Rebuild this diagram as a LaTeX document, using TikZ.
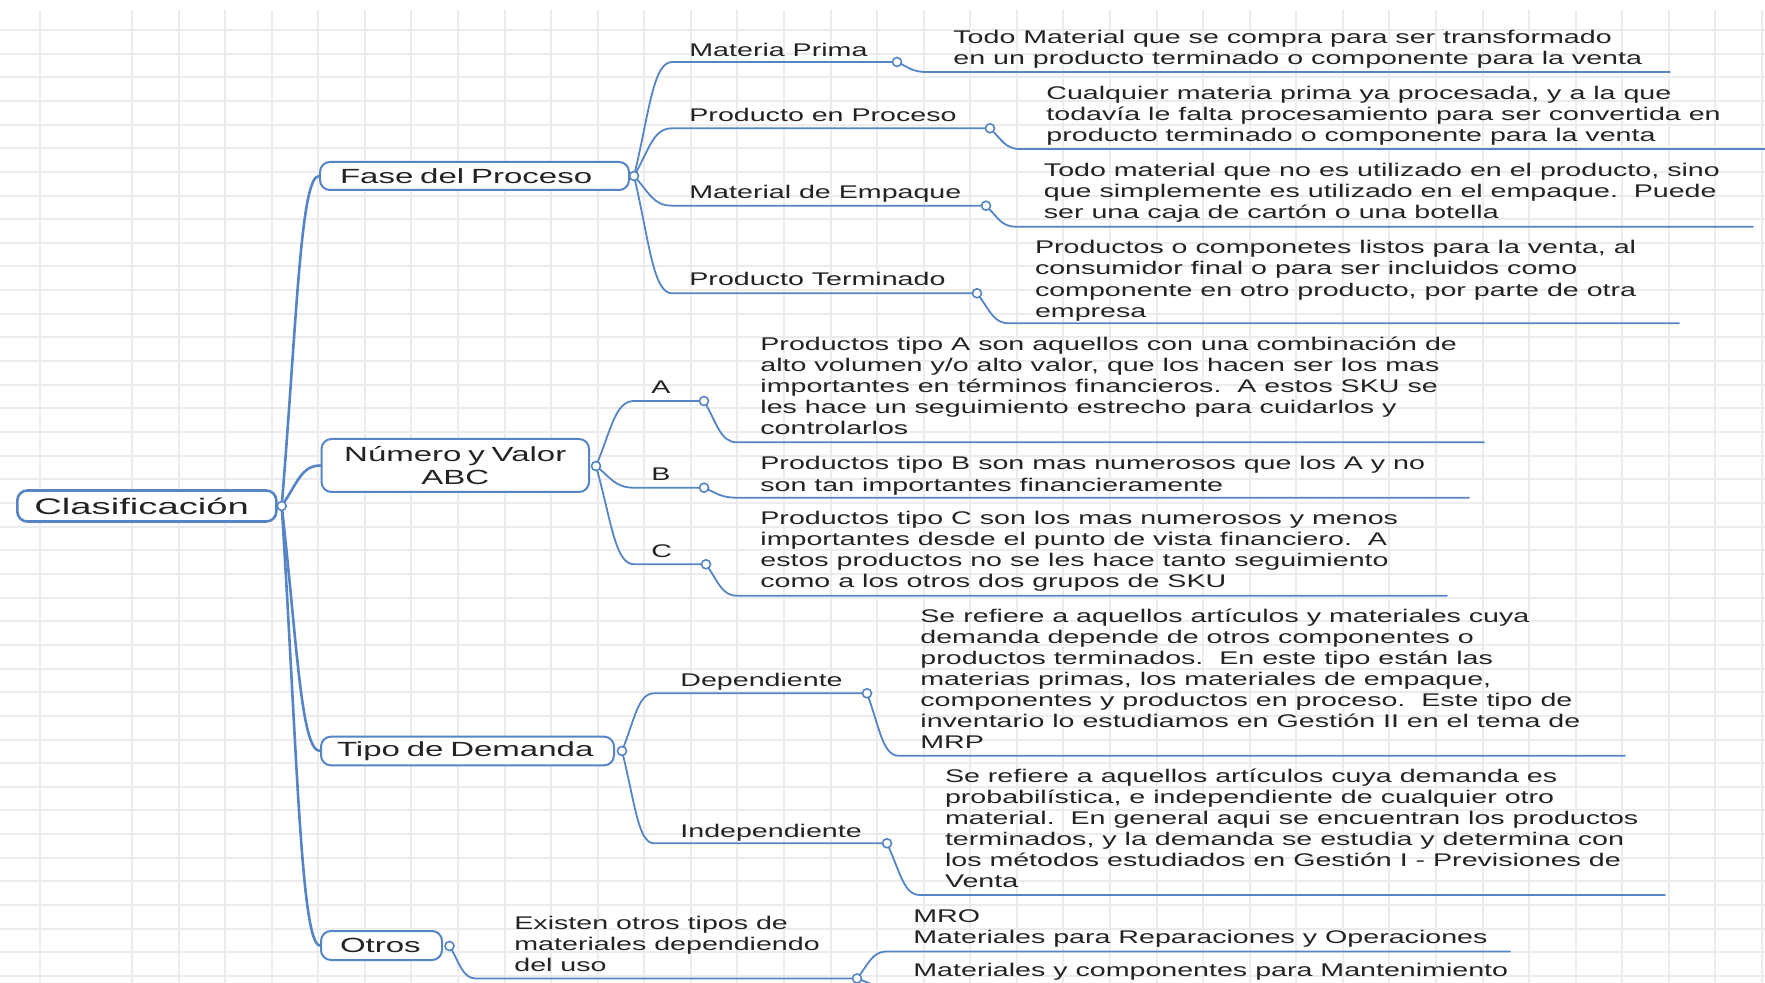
\documentclass[tikz,border=0pt]{standalone}
\usepackage{fontspec}
\setmainfont{Liberation Sans}
\newfontfamily\descfont{Liberation Sans}[FakeStretch=1.56]
\newfontfamily\topicfont{Liberation Sans}[FakeStretch=1.61]
\newfontfamily\rootfont{Liberation Sans}[FakeStretch=1.70]
\usetikzlibrary{calc}
\pgfdeclarelayer{grid}
\pgfdeclarelayer{links}
\pgfsetlayers{grid,links,main}
\definecolor{linec}{RGB}{86,133,198}
\definecolor{gridc}{RGB}{236,236,236}
\definecolor{txtc}{RGB}{35,35,35}
\begin{document}
\begin{tikzpicture}[x=0.5pt,y=-0.5pt,
  gridline/.style={draw=gridc, line width=1pt},
  topicbox/.style={draw=linec, fill=white, line width=1pt, rounded corners=5pt,
    anchor=west, inner ysep=0pt, align=left, text=txtc,
    font=\topicfont\fontsize{10.25pt}{11.5pt}\selectfont},
  rootbox/.style={topicbox, line width=1.3pt,
    font=\rootfont\fontsize{11.25pt}{13pt}\selectfont},
  knob/.style={circle, draw=linec, fill=white, line width=0.8pt,
    minimum size=4.5pt, inner sep=0pt},
  desc/.style={inner sep=0pt, anchor=west, align=left, text=txtc,
    font=\descfont\fontsize{9.17pt}{10.55pt}\selectfont,
    execute at begin node=\strut, execute at end node=\strut},
  trunk/.style={draw=linec, line width=1.3pt, line cap=round},
  branch/.style={draw=linec, line width=0.9pt, line cap=round},
  mapcurve/.style={to path={let \p1=(\tikztostart), \p2=(\tikztotarget) in
    .. controls ({\x1+0.4*(\x2-\x1)},{\y1+0.55*(\y2-\y1)})
    and ({\x1+0.5*(\x2-\x1)},\y2) .. (\tikztotarget) \tikztonodes}}]

\useasboundingbox (0,0) rectangle (1765,983);

% ---------- squared paper ----------
\begin{pgfonlayer}{grid}
  \fill[white] (0,0) rectangle (1765,983);
  \draw[gridline] (40,10) -- (40,983);
  \foreach \i in {0,...,35} \draw[gridline] ({132+46.57*\i},10) -- ({132+46.57*\i},983);
  \foreach \j in {0,...,40} \draw[gridline] (0,{30+23.65*\j}) -- (1765,{30+23.65*\j});
\end{pgfonlayer}

% ---------- central topic and main topics ----------
\node[rootbox, minimum height=15.5pt, text width=112.5pt, inner xsep=8.5pt] (root) at (16,506) {\mbox{Clasificación}};
\node[topicbox, minimum height=14pt, text width=134.5pt, inner xsep=10pt] (fase) at (319,176) {\mbox{Fase del Proceso}};
\node[topicbox, minimum height=26.5pt, text width=121.75pt, inner xsep=6pt, align=center] (abc) at (320.5,465.5) {Número y Valor\\ABC};
\node[topicbox, minimum height=14.35pt, text width=130.5pt, inner xsep=8pt] (tipo) at (320,751) {\mbox{Tipo de Demanda}};
\node[topicbox, minimum height=14.5pt, text width=41.5pt, inner xsep=9.5pt] (otros) at (320,945.5) {\mbox{Otros}};

% ---------- subtopic labels ----------
\node[desc] (lMP) at (689,52) {Materia Prima};
\node[desc] (lPP) at (689,117) {Producto en Proceso};
\node[desc] (lME) at (689,194.3) {Material de Empaque};
\node[desc] (lPT) at (689,281.3) {Producto Terminado};
\node[desc] (lA) at (651,389) {A};
\node[desc] (lB) at (651,476) {B};
\node[desc] (lC) at (651,553.7) {C};
\node[desc] (lDep) at (680,682) {Dependiente};
\node[desc] (lInd) at (680,833) {Independiente};
\node[desc] (lOtr) at (514,947.2) {Existen otros tipos de\\materiales dependiendo\\del uso};
\node[desc] (lMRO) at (913,929.5) {MRO\\Materiales para Reparaciones y Operaciones};
\node[desc] (lMant) at (913,972) {Materiales y componentes para Mantenimiento};

% ---------- notes ----------
\node[desc] (dMP) at (953,50.5) {Todo Material que se compra para ser transformado\\en un producto terminado o componente para la venta};
\node[desc] (dPP) at (1046,117.2) {Cualquier materia prima ya procesada, y a la que\\todavía le falta procesamiento para ser convertida en\\producto terminado o componente para la venta};
\node[desc] (dME) at (1043.5,194.2) {Todo material que no es utilizado en el producto, sino\\que simplemente es utilizado en el empaque.\ \ Puede\\ser una caja de cartón o una botella};
\node[desc] (dPT) at (1034.6,282) {Productos o componetes listos para la venta, al\\consumidor final o para ser incluidos como\\componente en otro producto, por parte de otra\\empresa};
\node[desc] (dA) at (760,389.2) {Productos tipo A son aquellos con una combinación de\\alto volumen y/o alto valor, que los hacen ser los mas\\importantes en términos financieros.\ \ A estos SKU se\\les hace un seguimiento estrecho para cuidarlos y\\controlarlos};
\node[desc] (dB) at (760,477) {Productos tipo B son mas numerosos que los A y no\\son tan importantes financieramente};
\node[desc] (dC) at (760,552.4) {Productos tipo C son los mas numerosos y menos\\importantes desde el punto de vista financiero.\ \ A\\estos productos no se les hace tanto seguimiento\\como a los otros dos grupos de SKU};
\node[desc] (dDep) at (920,682) {Se refiere a aquellos artículos y materiales cuya\\demanda depende de otros componentes o\\productos terminados.\ \ En este tipo están las\\materias primas, los materiales de empaque,\\componentes y productos en proceso.\ \ Este tipo de\\inventario lo estudiamos en Gestión II en el tema de\\MRP};
\node[desc] (dInd) at (944.6,831.2) {Se refiere a aquellos artículos cuya demanda es\\probabilística, e independiente de cualquier otro\\material.\ \ En general aqui se encuentran los productos\\terminados, y la demanda se estudia y determina con\\los métodos estudiados en Gestión I - Previsiones de\\Venta};

% ---------- branch knobs ----------
\node[knob] (kRoot) at (281.7,506) {};
\node[knob] (kFase) at (634,176) {};
\node[knob] (kAbc) at (596,466) {};
\node[knob] (kTipo) at (622,751) {};
\node[knob] (kOtros) at (449.5,946) {};
\node[knob] (kMP) at (897,62) {};
\node[knob] (kPP) at (990,128.3) {};
\node[knob] (kME) at (986,205.7) {};
\node[knob] (kPT) at (977,293.3) {};
\node[knob] (kA) at (704,401) {};
\node[knob] (kB) at (704,487.7) {};
\node[knob] (kC) at (706,564.3) {};
\node[knob] (kDep) at (867,693.3) {};
\node[knob] (kInd) at (887,843.3) {};
\node[knob] (kOtr) at (857,978.5) {};

% ---------- underline ends ----------
\coordinate (sMP) at (672,62);
\coordinate (sPP) at (672,128.3);
\coordinate (sME) at (672,205.7);
\coordinate (sPT) at (672,293.3);
\coordinate (sA) at (634,401);
\coordinate (sB) at (634,487.7);
\coordinate (sC) at (634,564.3);
\coordinate (sDep) at (654,693.3);
\coordinate (sInd) at (654,843.3);
\coordinate (sOtr) at (476,978.5);
\coordinate (sMRO) at (887,951.5);
\coordinate (eMRO) at (1510,951.5);
\coordinate (sMant) at (887,986);
\coordinate (eMant) at (1510,986);
\coordinate (uMPa) at (927,72);    \coordinate (uMPb) at (1670,72);
\coordinate (uPPa) at (1020,149);  \coordinate (uPPb) at (1765,149);
\coordinate (uMEa) at (1016,226.7);\coordinate (uMEb) at (1753,226.7);
\coordinate (uPTa) at (1009,323.3);\coordinate (uPTb) at (1679,323.3);
\coordinate (uAa) at (737,442.3);  \coordinate (uAb) at (1484,442.3);
\coordinate (uBa) at (737,497.7);  \coordinate (uBb) at (1469,497.7);
\coordinate (uCa) at (737,595.7);  \coordinate (uCb) at (1447,595.7);
\coordinate (uDepa) at (898.5,755.7); \coordinate (uDepb) at (1625,755.7);
\coordinate (uInda) at (920,895);  \coordinate (uIndb) at (1665,895);

% ---------- connectors ----------
\begin{pgfonlayer}{links}
  \draw[trunk] (kRoot.center) to[mapcurve] (fase.west);
  \draw[trunk] (kRoot.center) to[mapcurve] (abc.west);
  \draw[trunk] (kRoot.center) to[mapcurve] (tipo.west);
  \draw[trunk] (kRoot.center) to[mapcurve] (otros.west);

  \draw[branch] (kFase.center) to[mapcurve] (sMP) -- (kMP.center);
  \draw[branch] (kFase.center) to[mapcurve] (sPP) -- (kPP.center);
  \draw[branch] (kFase.center) to[mapcurve] (sME) -- (kME.center);
  \draw[branch] (kFase.center) to[mapcurve] (sPT) -- (kPT.center);
  \draw[branch] (kAbc.center) to[mapcurve] (sA) -- (kA.center);
  \draw[branch] (kAbc.center) to[mapcurve] (sB) -- (kB.center);
  \draw[branch] (kAbc.center) to[mapcurve] (sC) -- (kC.center);
  \draw[branch] (kTipo.center) to[mapcurve] (sDep) -- (kDep.center);
  \draw[branch] (kTipo.center) to[mapcurve] (sInd) -- (kInd.center);
  \draw[branch] (kOtros.center) to[mapcurve] (sOtr) -- (kOtr.center);
  \draw[branch] (kOtr.center) to[mapcurve] (sMRO) -- (eMRO);
  \draw[branch] (kOtr.center) to[mapcurve] (sMant) -- (eMant);

  \draw[branch] (kMP.center) to[mapcurve] (uMPa) -- (uMPb);
  \draw[branch] (kPP.center) to[mapcurve] (uPPa) -- (uPPb);
  \draw[branch] (kME.center) to[mapcurve] (uMEa) -- (uMEb);
  \draw[branch] (kPT.center) to[mapcurve] (uPTa) -- (uPTb);
  \draw[branch] (kA.center) to[mapcurve] (uAa) -- (uAb);
  \draw[branch] (kB.center) to[mapcurve] (uBa) -- (uBb);
  \draw[branch] (kC.center) to[mapcurve] (uCa) -- (uCb);
  \draw[branch] (kDep.center) to[mapcurve] (uDepa) -- (uDepb);
  \draw[branch] (kInd.center) to[mapcurve] (uInda) -- (uIndb);
\end{pgfonlayer}
\end{tikzpicture}
\end{document}
